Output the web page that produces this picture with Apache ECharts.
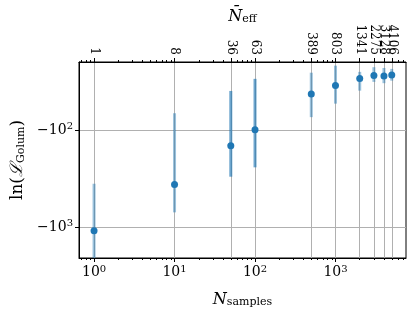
<!DOCTYPE html>
<html>
<head>
<meta charset="utf-8">
<script src="https://cdn.jsdelivr.net/npm/echarts@6/dist/echarts.min.js"></script>
<style>html,body{margin:0;padding:0;background:#fff}#c{width:415px;height:315px}</style>
</head>
<body>
<div id="c"></div>
<script>
// Data
const nSamples = [1, 10, 50, 100, 500, 1000, 2000, 3000, 4000, 5000];
const nEff = [1, 8, 36, 63, 389, 803, 1341, 2275, 3128, 4106];
const lnL = [-1089, -362, -144.5, -98.8, -42.1, -34.5, -29.2, -27.2, -27.4, -26.8];
const lnLUpper = [-356, -66.6, -39.2, -29.4, -25.4, -21.5, -24.9, -22.3, -22.7, -23.2];
const lnLLower = [-3000, -703, -301, -241, -73.1, -53.0, -38.9, -31.6, -32.6, -30.7];
const xTicks = [1, 10, 100, 1000];
const yTicks = [-100, -1000];

const SERIF = '"DejaVu Serif", "Liberation Serif", serif';
const X_MIN = 0.65, X_MAX = 7516, Y_MIN = 19.7, Y_MAX = 2080;
const barAlpha = [0.45, 0.45, 0.65, 0.65, 0.45, 0.45, 0.45, 0.45, 0.45, 0.45];

const minor = [];
for (let d = 0.1; d <= 1000; d *= 10) {
  for (let m = 2; m <= 9; m++) {
    const v = +(m * d).toPrecision(3);
    if (v > X_MIN && v < X_MAX) minor.push(v);
  }
}

const supRich = {
  b: {fontFamily: SERIF, fontSize: 14, color: '#000'},
  s: {fontFamily: SERIF, fontSize: 10, color: '#000', verticalAlign: 'top', padding: [0, 0, 7, 0]}
};

// top labels are split over two axes so neighbouring overlapping labels are not auto-hidden
function topLabelAxis(parity) {
  const vals = nSamples.filter((n, i) => i % 2 === parity);
  return {
    type: 'log', min: X_MIN, max: X_MAX, position: 'top',
    axisLine: {show: false},
    axisTick: {show: false, customValues: vals},
    axisLabel: {customValues: vals, rotate: 90, margin: 7, fontFamily: SERIF, fontSize: 12, color: '#000',
      hideOverlap: false,
      formatter: v => String(nEff[nSamples.indexOf(Math.round(v))])},
    splitLine: {show: false}
  };
}

const chart = echarts.init(document.getElementById('c'), null, {renderer: 'canvas'});
chart.setOption({
  animation: false,
  backgroundColor: '#fff',
  grid: {left: 79, right: 9, top: 62, bottom: 57, show: true, borderColor: '#000', borderWidth: 1,
    backgroundColor: 'transparent', containLabel: false, outerBoundsMode: 'none'},
  xAxis: [
    {
      type: 'log', min: X_MIN, max: X_MAX, position: 'bottom',
      axisLine: {show: true, lineStyle: {color: '#000', width: 1}},
      axisTick: {show: true, length: 4, customValues: xTicks, lineStyle: {color: '#000'}},
      axisLabel: {customValues: xTicks, margin: 6, hideOverlap: false,
        formatter: v => '{b|10}{s|' + Math.round(Math.log10(v)) + '}', rich: supRich},
      splitLine: {show: false},
      name: '{i|N}{sub|samples}', nameLocation: 'middle', nameGap: 33,
      nameTextStyle: {rich: {
        i: {fontFamily: SERIF, fontStyle: 'italic', fontSize: 16, color: '#000'},
        sub: {fontFamily: SERIF, fontSize: 11, color: '#000', verticalAlign: 'bottom', padding: [6, 0, 0, 0]}
      }}
    },
    {
      type: 'log', min: X_MIN, max: X_MAX, position: 'bottom',
      axisLine: {show: false},
      axisTick: {show: true, length: 2, customValues: minor, lineStyle: {color: '#000'}},
      axisLabel: {show: false}, splitLine: {show: false}
    },
    {
      type: 'log', min: X_MIN, max: X_MAX, position: 'top',
      axisLine: {show: true, lineStyle: {color: '#000', width: 1}},
      axisTick: {show: true, length: 4, customValues: nSamples, lineStyle: {color: '#000'}},
      axisLabel: {show: false, customValues: nSamples},
      splitLine: {show: true, lineStyle: {color: '#b0b0b0', width: 1}},
      name: '{i|N\u0304}{sub|eff}', nameLocation: 'middle', nameGap: 37,
      nameTextStyle: {rich: {
        i: {fontFamily: SERIF, fontStyle: 'italic', fontSize: 16, color: '#000'},
        sub: {fontFamily: SERIF, fontSize: 11, color: '#000', verticalAlign: 'bottom', padding: [6, 0, 0, 0]}
      }}
    },
    {
      type: 'log', min: X_MIN, max: X_MAX, position: 'top',
      axisLine: {show: false},
      axisTick: {show: true, length: 2, customValues: minor, lineStyle: {color: '#000'}},
      axisLabel: {show: false}, splitLine: {show: false}
    },
    topLabelAxis(0),
    topLabelAxis(1)
  ],
  yAxis: {
    type: 'log', inverse: true, min: Y_MIN, max: Y_MAX,
    axisLine: {show: true, lineStyle: {color: '#000', width: 1}},
    axisTick: {show: true, length: 4, customValues: yTicks.map(v => -v), lineStyle: {color: '#000'}},
    axisLabel: {customValues: yTicks.map(v => -v), margin: 6, hideOverlap: false,
      formatter: v => '{b|\u221210}{s|' + Math.round(Math.log10(v)) + '}', rich: supRich},
    minorTick: {show: false},
    splitLine: {show: true, lineStyle: {color: '#b0b0b0', width: 1}},
    name: '{a|ln(}{l|\u2112}{sub|Golum}{a|)}', nameLocation: 'middle', nameGap: 50,
    nameTextStyle: {rich: {
      a: {fontFamily: SERIF, fontSize: 17, color: '#000'},
      l: {fontFamily: SERIF, fontSize: 17, color: '#000', fontStyle: 'italic'},
      sub: {fontFamily: SERIF, fontSize: 11, color: '#000', verticalAlign: 'bottom', padding: [6, 0, 0, 0]}
    }}
  },
  series: [
    {
      type: 'custom',
      xAxisIndex: 0,
      clip: true,
      data: nSamples.map((n, i) => [n, -lnLUpper[i], -lnLLower[i], i]),
      renderItem: (params, api) => {
        const p1 = api.coord([api.value(0), api.value(1)]);
        const p2 = api.coord([api.value(0), api.value(2)]);
        const a = barAlpha[api.value(3)];
        return {
          type: 'line',
          shape: {x1: p1[0], y1: p1[1], x2: p2[0], y2: p2[1]},
          style: {stroke: 'rgba(31,119,180,' + a + ')', lineWidth: 3}
        };
      },
      z: 3
    },
    {
      type: 'scatter',
      xAxisIndex: 0,
      data: nSamples.map((n, i) => [n, -lnL[i]]),
      symbol: 'circle', symbolSize: 7,
      itemStyle: {color: '#1f77b4', opacity: 1},
      z: 4
    }
  ]
});
</script>
</body>
</html>
